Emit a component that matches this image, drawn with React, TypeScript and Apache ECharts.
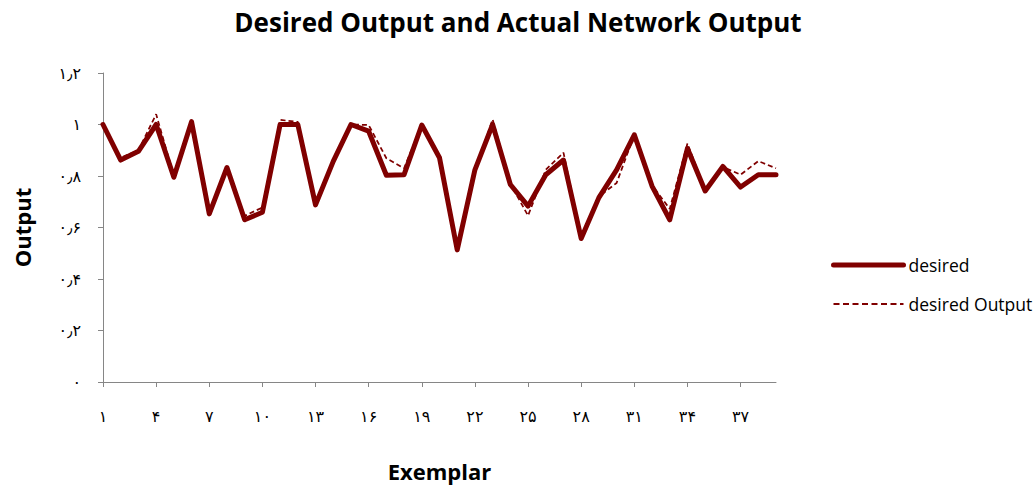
import React, { useEffect, useRef } from "react";
import * as echarts from "echarts";

const categories: number[] = Array.from({ length: 39 }, (_, i) => i + 1);

const desired: number[] = [
  1.0, 0.862, 0.896, 1.0, 0.795, 1.011, 0.653, 0.833, 0.63, 0.659,
  1.0, 1.0, 0.688, 0.857, 1.0, 0.974, 0.803, 0.805, 0.998, 0.871,
  0.513, 0.824, 1.0, 0.767, 0.683, 0.805, 0.862, 0.557, 0.716, 0.824,
  0.96, 0.761, 0.63, 0.907, 0.742, 0.837, 0.757, 0.805, 0.805,
];

const networkOutput: number[] = [
  1.0, 0.871, 0.9, 1.04, 0.8, 1.01, 0.655, 0.83, 0.645, 0.678,
  1.018, 1.01, 0.69, 0.86, 1.0, 0.998, 0.869, 0.83, 1.0, 0.87,
  0.52, 0.82, 1.02, 0.77, 0.646, 0.824, 0.891, 0.56, 0.72, 0.773,
  0.96, 0.765, 0.672, 0.926, 0.745, 0.835, 0.805, 0.858, 0.83,
];

const seriesNames: string[] = ["desired", "desired Output"];

const persianDigits = "۰۱۲۳۴۵۶۷۸۹";
function toPersian(s: string): string {
  return s.replace(/[0-9]/g, (d) => persianDigits[Number(d)]).replace(/\./g, "٫");
}

export default function App() {
  const ref = useRef<HTMLDivElement>(null);
  useEffect(() => {
    if (!ref.current) return;
    const chart = echarts.init(ref.current, undefined, { renderer: "svg" });
    const font = "'Open Sans', 'Liberation Sans', sans-serif";
    const color = "#800000";
    chart.setOption({
      animation: false,
      backgroundColor: "#ffffff",
      title: {
        text: "Desired Output and Actual Network Output",
        left: "center",
        top: 4,
        textStyle: { fontFamily: font, fontSize: 26, fontWeight: "bold", color: "#000" },
      },
      legend: {
        orient: "vertical",
        left: 826,
        top: 251,
        itemWidth: 70,
        itemHeight: 20,
        itemGap: 21,
        itemStyle: { opacity: 0 },
        textStyle: { fontFamily: font, fontSize: 17.5, color: "#000" },
        data: [
          { name: seriesNames[0], lineStyle: { color, width: 5, type: "solid" } },
          { name: seriesNames[1], lineStyle: { color, width: 2, type: [6, 3.5] } },
        ],
      },
      grid: { left: 103, right: 260, top: 73, bottom: 99 },
      xAxis: {
        type: "category",
        data: categories,
        boundaryGap: false,
        name: "Exemplar",
        nameLocation: "middle",
        nameGap: 78,
        nameTextStyle: { fontFamily: font, fontSize: 22, fontWeight: "bold", color: "#000" },
        axisLine: { lineStyle: { color: "#868686", width: 1 } },
        axisTick: { show: true, interval: 2, length: 5, lineStyle: { color: "#868686" } },
        axisLabel: {
          interval: 2,
          margin: 26,
          fontFamily: "'DejaVu Sans', sans-serif",
          fontSize: 16,
          color: "#000",
          formatter: (v: string) => toPersian(String(v)),
        },
        splitLine: { show: false },
      },
      yAxis: {
        type: "value",
        min: 0,
        max: 1.2,
        interval: 0.2,
        name: "Output",
        nameLocation: "middle",
        nameGap: 70,
        nameRotate: 90,
        nameTextStyle: { fontFamily: font, fontSize: 22, fontWeight: "bold", color: "#000" },
        axisLine: { show: true, lineStyle: { color: "#868686", width: 1 } },
        axisTick: { show: true, length: 5, lineStyle: { color: "#868686" } },
        axisLabel: {
          margin: 22,
          fontFamily: "'DejaVu Sans', sans-serif",
          fontSize: 16,
          color: "#000",
          formatter: (v: number) => toPersian(String(Math.round(v * 10) / 10)),
        },
        splitLine: { show: false },
      },
      series: [
        {
          name: seriesNames[0],
          type: "line",
          data: desired,
          symbol: "none",
          itemStyle: { color },
          lineStyle: { color, width: 5, join: "round", cap: "round" },
        },
        {
          name: seriesNames[1],
          type: "line",
          data: networkOutput,
          symbol: "none",
          itemStyle: { color },
          lineStyle: { color, width: 1.75, type: [5, 3] },
        },
      ],
    });
    return () => chart.dispose();
  }, []);
  return (
    <div
      ref={ref}
      style={{ position: "fixed", left: 0, top: 0, width: 1036, height: 487 }}
    />
  );
}
